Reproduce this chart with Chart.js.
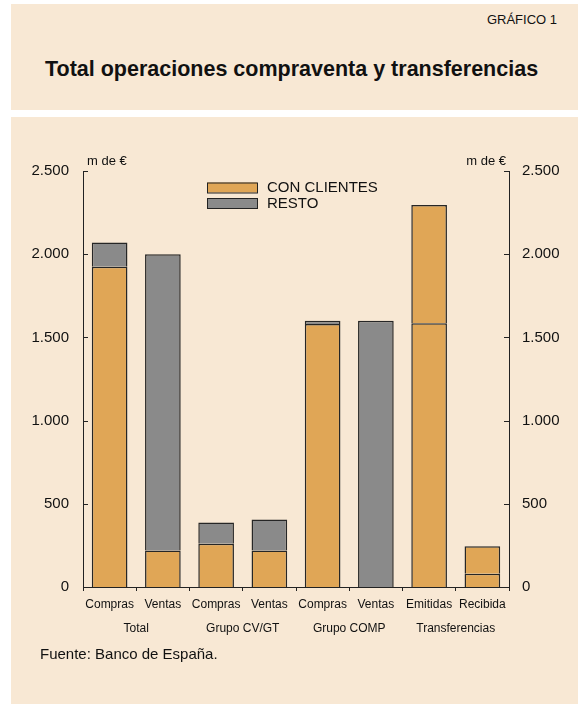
<!DOCTYPE html>
<html>
<head>
<meta charset="utf-8">
<script src="https://cdn.jsdelivr.net/npm/chart.js@4/dist/chart.umd.min.js"></script>
<style>
  body { margin: 0; background: #fff; font-family: "Liberation Sans", Arial, sans-serif; color: #111; }
  .panel { position: absolute; left: 11px; width: 567px; background: #f8e8d4; }
  #head { top: 4px; height: 106px; }
  #body { top: 117px; height: 587px; }
  #num { position: absolute; right: 21px; top: 8px; font-size: 13px; }
  #title { position: absolute; left: 34px; top: 53px; font-size: 21.5px; font-weight: bold; }
  #src { position: absolute; left: 29px; top: 528px; font-size: 15px; }
  canvas { position: absolute; left: 0; top: 0; }
</style>
</head>
<body>
<div class="panel" id="head">
  <div id="num">GRÁFICO 1</div>
  <div id="title">Total operaciones compraventa y transferencias</div>
</div>
<div class="panel" id="body">
  <canvas id="grafico" width="567" height="587"></canvas>
  <div id="src">Fuente: Banco de España.</div>
</div>
<script>
const labels = ["Compras", "Ventas", "Compras", "Ventas", "Compras", "Ventas", "Emitidas", "Recibida"];
const groups = ["Total", "Grupo CV/GT", "Grupo COMP", "Transferencias"];
const conClientes = [1925, 220, 260, 220, 1580, null, 1585, 80];
const resto = [145, 1780, 127, 185, 20, 1600, null, null];
// parte superior de las transferencias (mismo color, sin leyenda)
const transfResto = [null, null, null, null, null, null, 710, 165];
const yTicks = [0, 500, 1000, 1500, 2000, 2500];

const naranja = "#e0a656";
const gris = "#8a8a8a";
const tinta = "#222";
const fuente = '"Liberation Sans", Arial, sans-serif';

const fmt = (v) => v.toLocaleString("de-DE");

const extras = {
  id: "extras",
  afterDraw(chart) {
    const { ctx, chartArea } = chart;
    const x = chart.scales.x;
    const y = chart.scales.y;
    ctx.save();
    ctx.strokeStyle = tinta;
    ctx.lineWidth = 1;
    // marcas hacia dentro en los ejes verticales
    yTicks.forEach((v) => {
      const py = Math.round(y.getPixelForValue(v)) + 0.5;
      ctx.beginPath();
      ctx.moveTo(chartArea.left, py);
      ctx.lineTo(chartArea.left + 5, py);
      ctx.moveTo(chartArea.right, py);
      ctx.lineTo(chartArea.right - 5, py);
      ctx.stroke();
    });
    ctx.fillStyle = "#111";
    // unidades
    ctx.font = "13px " + fuente;
    ctx.textBaseline = "middle";
    ctx.textAlign = "left";
    ctx.fillText("m de €", chartArea.left + 4, chartArea.top - 10);
    ctx.textAlign = "right";
    ctx.fillText("m de €", chartArea.right - 3, chartArea.top - 10);
    // grupos
    ctx.font = "12px " + fuente;
    ctx.textAlign = "center";
    groups.forEach((g, i) => {
      const cx = (x.getPixelForValue(2 * i) + x.getPixelForValue(2 * i + 1)) / 2;
      ctx.fillText(g, cx, chartArea.bottom + 42);
    });
    // leyenda
    const items = chart.data.datasets.slice(0, 2);
    ctx.font = "15px " + fuente;
    ctx.textAlign = "left";
    items.forEach((d, i) => {
      const bx = 196, by = 65.5 + i * 15.5;
      ctx.fillStyle = d.backgroundColor;
      ctx.fillRect(bx, by, 50, 10);
      ctx.strokeRect(bx + 0.5, by + 0.5, 50, 10);
      ctx.fillStyle = "#111";
      ctx.fillText(d.label, bx + 60, by + 5.5);
    });
    ctx.restore();
  }
};

const barra = { borderColor: "#262626", borderWidth: 1.5, barPercentage: 0.67, categoryPercentage: 1 };

new Chart(document.getElementById("grafico"), {
  type: "bar",
  data: {
    labels: labels,
    datasets: [
      { label: "CON CLIENTES", data: conClientes, backgroundColor: naranja, ...barra },
      { label: "RESTO", data: resto, backgroundColor: gris, ...barra },
      { label: "Transferencias", data: transfResto, backgroundColor: naranja, ...barra }
    ]
  },
  options: {
    responsive: false,
    animation: false,
    layout: { padding: { top: 54, left: 0, right: 0, bottom: 0 } },
    plugins: { legend: { display: false }, tooltip: { enabled: false } },
    scales: {
      x: {
        stacked: true,
        grid: { display: true, offset: true, drawOnChartArea: false, drawTicks: true, tickLength: 4, color: tinta },
        border: { display: true, color: tinta, width: 1 },
        ticks: { color: "#111", font: { family: fuente, size: 12 }, padding: 6, maxRotation: 0, autoSkip: false },
        afterFit: (s) => { s.height = 117; }
      },
      y: {
        stacked: true,
        position: "left",
        min: 0, max: 2500,
        afterBuildTicks: (s) => { s.ticks = yTicks.map((v) => ({ value: v })); },
        grid: { display: false, drawTicks: false },
        border: { display: true, color: tinta, width: 1 },
        ticks: { color: "#111", font: { family: fuente, size: 15 }, padding: 14, callback: fmt },
        afterFit: (s) => { s.width = 72; }
      },
      y2: {
        position: "right",
        min: 0, max: 2500,
        afterBuildTicks: (s) => { s.ticks = yTicks.map((v) => ({ value: v })); },
        grid: { display: false, drawTicks: false },
        border: { display: true, color: tinta, width: 1 },
        ticks: { color: "#111", font: { family: fuente, size: 15 }, padding: 13, callback: fmt },
        afterFit: (s) => { s.width = 69; }
      }
    }
  },
  plugins: [extras]
});
</script>
</body>
</html>
